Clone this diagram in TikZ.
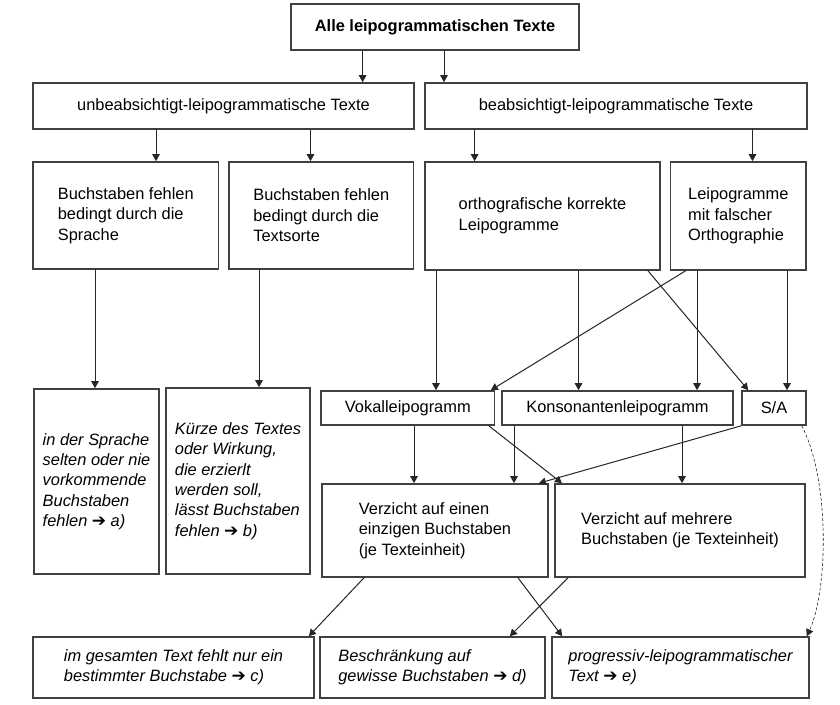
\documentclass[tikz,border=0pt]{standalone}
\usepackage{fontspec}
\setmainfont{Liberation Sans}
\newfontfamily\arrowfont{DejaVu Sans}
\usetikzlibrary{arrows.meta}
\newcommand{\toarrow}{{\arrowfont\fontsize{17}{17}\selectfont ➔}}

\tikzset{
  box/.style={draw=black!75, line width=1.6pt, fill=white, align=left,
    inner sep=0pt, font=\fontsize{16.4}{20.5}\selectfont},
  arr/.style={draw=black!85, line width=1pt, -{Triangle[length=7pt,width=7.5pt]}},
}

\begin{document}
\begin{tikzpicture}[x=1pt, y=-1pt]
  \fill[white] (0,0) rectangle (840,704);
  \useasboundingbox (0,0) rectangle (840,704);

  % Top level
  \node[box, minimum width=288pt, minimum height=46pt, align=center] (alle) at (435,27) {\textbf{Alle leipogrammatischen Texte}};

  % Second level
  \node[box, minimum width=381pt, minimum height=46pt, align=center] (unbeab) at (223.5,106) {unbeabsichtigt-leipogrammatische Texte};
  \node[box, minimum width=382pt, minimum height=46pt, align=center] (beab) at (616,106) {beabsichtigt-leipogrammatische Texte};

  % Third level
  \node[box, minimum width=185.5pt, minimum height=107pt] (sprache) at (125.75,215.5) {Buchstaben fehlen\\bedingt durch die\\Sprache};
  \node[box, minimum width=184.5pt, minimum height=107pt] (sorte) at (321.25,215.5) {Buchstaben fehlen\\bedingt durch die\\Textsorte};
  \node[box, minimum width=235pt, minimum height=108pt] (ortho) at (542.5,216) {orthografische korrekte\\Leipogramme};
  \node[box, minimum width=135.4pt, minimum height=108pt] (falsch) at (738.3,216) {Leipogramme\\mit falscher\\Orthographie};

  % Reasons (left)
  \node[box, minimum width=125pt, minimum height=185pt, font=\fontsize{16.4}{20.3}\selectfont\itshape] (selten) at (96.5,481.5) {in der Sprache\\selten oder nie\\vorkommende\\Buchstaben\\fehlen \toarrow{} a)};
  \node[box, minimum width=144pt, minimum height=186pt, font=\fontsize{16.4}{20.3}\selectfont\itshape] (kuerze) at (238,481) {Kürze des Textes\\oder Wirkung,\\die erzierlt\\werden soll,\\lässt Buchstaben\\fehlen \toarrow{} b)};

  % Kinds of omission
  \node[box, minimum width=173.6pt, minimum height=34pt, align=center] (vokal) at (407.8,408) {Vokalleipogramm};
  \node[box, minimum width=231pt, minimum height=34pt, align=center] (kons) at (617.5,408) {Konsonantenleipogramm};
  \node[box, minimum width=64pt, minimum height=34pt, align=center] (sa) at (774,408) {S/A};

  \node[box, minimum width=226pt, minimum height=93pt] (einen) at (435,530.5) {Verzicht auf einen\\einzigen Buchstaben\\(je Texteinheit)};
  \node[box, minimum width=250.5pt, minimum height=93pt] (mehrere) at (680,530.5) {Verzicht auf mehrere\\Buchstaben (je Texteinheit)};

  % Bottom row
  \node[box, minimum width=281pt, minimum height=61pt, font=\fontsize{16.4}{20.3}\selectfont\itshape] (gesamt) at (173.5,667.5) {im gesamten Text fehlt nur ein\\bestimmter Buchstabe \toarrow{} c)};
  \node[box, minimum width=225pt, minimum height=61pt, font=\fontsize{16.4}{20.3}\selectfont\itshape] (gewiss) at (432.5,667.5) {Beschränkung auf\\gewisse Buchstaben \toarrow{} d)};
  \node[box, minimum width=257pt, minimum height=61pt, font=\fontsize{16.4}{20.3}\selectfont\itshape] (progr) at (680.5,667.5) {progressiv-leipogrammatischer\\Text \toarrow{} e)};

  % Arrows
  \draw[arr] ([xshift=-72.4pt]alle.south) -- ([xshift=-72.4pt]alle.south |- unbeab.north);
  \draw[arr] ([xshift=9pt]alle.south) -- ([xshift=9pt]alle.south |- beab.north);
  \draw[arr] ([xshift=-67.5pt]unbeab.south) -- ([xshift=-67.5pt]unbeab.south |- sprache.north);
  \draw[arr] ([xshift=87pt]unbeab.south) -- ([xshift=87pt]unbeab.south |- sorte.north);
  \draw[arr] ([xshift=-141.4pt]beab.south) -- ([xshift=-141.4pt]beab.south |- ortho.north);
  \draw[arr] ([xshift=136.5pt]beab.south) -- ([xshift=136.5pt]beab.south |- falsch.north);

  \draw[arr] ([xshift=-30.75pt]sprache.south) -- ([xshift=-30.75pt]sprache.south |- selten.north);
  \draw[arr] ([xshift=-62.25pt]sorte.south) -- ([xshift=-62.25pt]sorte.south |- kuerze.north);
  \draw[arr] ([xshift=-106.5pt]ortho.south) -- ([xshift=-106.5pt]ortho.south |- vokal.north);
  \draw[arr] ([xshift=36pt]ortho.south) -- ([xshift=36pt]ortho.south |- kons.north);
  \draw[arr] ([xshift=105.5pt]ortho.south) -- ([xshift=7pt]sa.north west);
  \draw[arr] ([xshift=-52.7pt]falsch.south) -- ([xshift=-4.6pt]vokal.north east);
  \draw[arr] ([xshift=-41.3pt]falsch.south) -- ([xshift=-41.3pt]falsch.south |- kons.north);
  \draw[arr] ([xshift=48.7pt]falsch.south) -- ([xshift=48.7pt]falsch.south |- sa.north);

  \draw[arr] ([xshift=6.2pt]vokal.south) -- ([xshift=6.2pt]vokal.south |- einen.north);
  \draw[arr] ([xshift=-103.5pt]kons.south) -- ([xshift=-103.5pt]kons.south |- einen.north);
  \draw[arr] ([xshift=64.5pt]kons.south) -- ([xshift=64.5pt]kons.south |- mehrere.north);
  \draw[arr] ([xshift=-6.6pt]vokal.south east) -- ([xshift=8pt]mehrere.north west);
  \draw[arr] (sa.south west) -- ([xshift=-10pt]einen.north east);

  \draw[arr] ([xshift=-71pt]einen.south) -- ([xshift=-6pt]gesamt.north east);
  \draw[arr] ([xshift=83pt]einen.south) -- ([xshift=11pt]progr.north west);
  \draw[arr] ([xshift=-112pt]mehrere.south) -- ([xshift=-36pt]gewiss.north east);
  \draw[arr, line width=0.6pt, dash pattern=on 3pt off 2pt] ([xshift=-5pt]sa.south east) .. controls (830,480) and (828,590) .. ([xshift=-3pt]progr.north east);
\end{tikzpicture}
\end{document}
